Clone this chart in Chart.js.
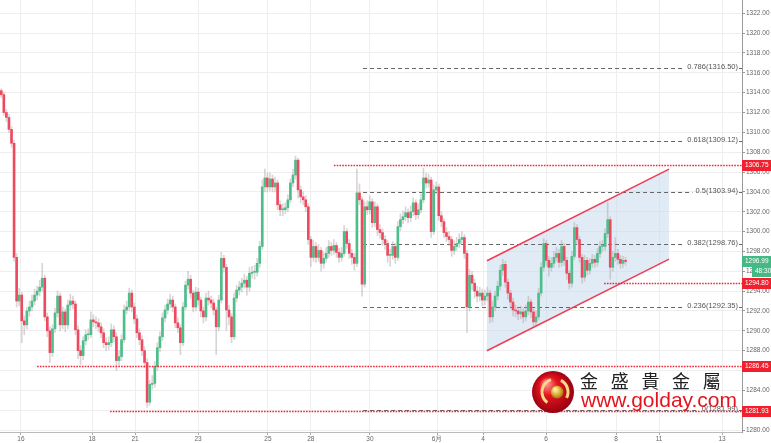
<!DOCTYPE html>
<html>
<head>
<meta charset="utf-8">
<script src="https://cdn.jsdelivr.net/npm/chart.js@4.4.1/dist/chart.umd.min.js"></script>
<style>
  html, body { margin: 0; padding: 0; background: #fff; }
  canvas { display: block; }
</style>
</head>
<body>
<canvas id="chart" width="771" height="443"></canvas>
<script>
// gold, 2h candles, 16 May -> 8 Jun
const opens = [
  1314.2, 1313.8, 1312.0, 1311.5, 1310.3, 1308.9, 1297.4, 1293.0, 1293.6, 1291.0,
  1290.6, 1292.0, 1292.4, 1293.0, 1293.6, 1294.0, 1294.4, 1295.3, 1291.4, 1290.0,
  1287.8, 1290.2, 1291.8, 1293.5, 1290.6, 1291.9, 1290.6, 1292.6, 1293.0, 1292.7,
  1290.1, 1288.0, 1287.5, 1289.0, 1289.6, 1289.6, 1291.1, 1290.9, 1290.8, 1290.4,
  1289.8, 1288.8, 1288.6, 1288.8, 1290.1, 1289.4, 1287.0, 1287.4, 1289.1, 1292.1,
  1292.4, 1293.8, 1292.4, 1291.2, 1289.8, 1289.1, 1288.0, 1286.8, 1282.8, 1284.6,
  1284.7, 1286.4, 1288.3, 1289.4, 1291.3, 1292.1, 1292.7, 1293.1, 1292.4, 1290.8,
  1290.3, 1288.8, 1292.4, 1294.6, 1295.2, 1293.8, 1292.4, 1293.9, 1293.1, 1292.0,
  1291.4, 1293.3, 1293.1, 1292.8, 1292.1, 1290.4, 1293.1, 1297.3, 1296.4, 1292.1,
  1291.4, 1289.4, 1293.3, 1294.1, 1294.4, 1294.8, 1295.1, 1294.4, 1295.8, 1295.9,
  1295.9, 1296.8, 1298.5, 1304.5, 1305.4, 1304.5, 1305.3, 1304.5, 1304.9, 1302.7,
  1302.2, 1302.2, 1302.4, 1303.2, 1304.9, 1305.7, 1307.2, 1304.2, 1303.5, 1303.2,
  1302.5, 1299.2, 1297.4, 1298.5, 1297.4, 1298.1, 1296.8, 1297.3, 1297.8, 1298.5,
  1298.1, 1298.6, 1297.9, 1297.4, 1297.8, 1300.0, 1298.8, 1297.8, 1297.4, 1296.8,
  1303.9, 1303.2, 1294.7, 1302.5, 1302.2, 1303.0, 1300.9, 1302.5, 1300.2, 1299.9,
  1299.2, 1298.8, 1297.6, 1297.6, 1298.5, 1297.4, 1300.5, 1301.2, 1301.5, 1301.9,
  1301.4, 1302.0, 1302.9, 1301.7, 1302.2, 1303.2, 1305.4, 1304.9, 1305.2, 1300.0,
  1304.2, 1304.5, 1301.6, 1301.0, 1299.9, 1299.5, 1299.2, 1298.1, 1298.5, 1298.8,
  1299.2, 1299.4, 1297.8, 1292.4, 1295.6, 1294.8, 1294.0, 1293.5, 1293.8, 1293.1,
  1293.5, 1293.8, 1291.4, 1292.4, 1293.5, 1294.5, 1296.1, 1296.7, 1294.9, 1293.8,
  1292.9, 1292.1, 1292.0, 1291.7, 1291.9, 1291.4, 1292.0, 1292.9, 1291.9, 1290.9,
  1291.4, 1293.8, 1296.4, 1298.8, 1297.1, 1296.4, 1296.8, 1297.4, 1297.8, 1296.9,
  1298.5, 1297.1, 1295.8, 1294.8, 1297.5, 1300.4, 1299.2, 1297.4, 1295.4, 1297.1,
  1296.1, 1296.8, 1297.2, 1296.9, 1297.8, 1298.5, 1298.5, 1299.8, 1301.2, 1296.4,
  1297.4, 1297.8, 1297.2, 1296.8, 1297.1
];
const highs = [
  1314.4, 1314.0, 1312.3, 1311.8, 1310.6, 1309.2, 1297.8, 1294.3, 1293.9, 1291.5,
  1292.4, 1293.0, 1293.6, 1294.2, 1294.5, 1295.1, 1296.8, 1295.6, 1291.8, 1290.4,
  1290.6, 1292.3, 1294.0, 1293.8, 1292.4, 1292.2, 1293.1, 1293.7, 1293.5, 1293.0,
  1290.5, 1288.5, 1289.4, 1290.1, 1290.2, 1291.9, 1291.6, 1291.4, 1291.2, 1290.8,
  1290.2, 1289.3, 1289.4, 1290.7, 1290.5, 1289.8, 1288.0, 1289.6, 1292.6, 1293.0,
  1294.3, 1294.1, 1292.8, 1291.6, 1290.2, 1289.5, 1288.4, 1287.2, 1285.0, 1285.5,
  1286.9, 1288.8, 1289.9, 1291.8, 1292.6, 1293.2, 1293.7, 1293.5, 1292.7, 1291.3,
  1290.6, 1292.9, 1295.0, 1296.0, 1295.6, 1294.1, 1294.4, 1294.3, 1293.4, 1292.4,
  1293.8, 1294.0, 1293.5, 1293.2, 1292.4, 1293.6, 1297.9, 1297.6, 1296.7, 1292.6,
  1291.7, 1293.8, 1294.6, 1295.0, 1295.3, 1295.7, 1295.5, 1296.4, 1296.5, 1296.6,
  1297.3, 1299.0, 1305.2, 1306.3, 1305.9, 1305.9, 1305.7, 1305.5, 1305.2, 1303.1,
  1302.8, 1302.9, 1303.7, 1305.3, 1306.3, 1307.6, 1307.4, 1304.6, 1304.0, 1303.6,
  1302.8, 1299.5, 1299.1, 1298.9, 1298.7, 1298.4, 1297.9, 1298.4, 1299.1, 1298.9,
  1299.2, 1298.9, 1298.3, 1298.4, 1300.6, 1300.3, 1299.2, 1298.2, 1297.8, 1306.3,
  1304.8, 1303.5, 1303.0, 1303.1, 1303.6, 1303.3, 1303.0, 1302.8, 1300.7, 1300.3,
  1299.6, 1299.1, 1298.2, 1299.0, 1298.8, 1301.0, 1301.8, 1302.1, 1302.5, 1302.3,
  1302.6, 1303.4, 1303.2, 1302.8, 1303.8, 1306.4, 1305.9, 1305.8, 1305.5, 1304.7,
  1305.0, 1304.8, 1302.0, 1301.3, 1300.4, 1300.0, 1299.5, 1299.1, 1299.4, 1299.8,
  1300.0, 1299.7, 1298.1, 1296.2, 1296.0, 1295.2, 1294.5, 1294.4, 1294.2, 1294.1,
  1294.4, 1294.1, 1293.0, 1294.0, 1295.0, 1296.6, 1297.2, 1297.0, 1295.2, 1294.1,
  1293.3, 1292.6, 1292.4, 1292.5, 1292.3, 1292.6, 1293.5, 1293.2, 1292.2, 1292.0,
  1294.3, 1296.9, 1299.3, 1299.1, 1297.5, 1297.4, 1298.0, 1298.4, 1298.2, 1299.1,
  1298.8, 1297.4, 1296.1, 1298.0, 1300.9, 1300.7, 1299.5, 1297.7, 1297.6, 1297.4,
  1297.3, 1297.7, 1297.6, 1298.3, 1299.0, 1299.1, 1300.3, 1302.9, 1301.5, 1298.0,
  1299.4, 1298.2, 1297.6, 1297.5, 1297.4
];
const lows = [
  1313.5, 1311.7, 1311.1, 1310.0, 1308.5, 1297.0, 1292.4, 1292.5, 1288.8, 1289.6,
  1290.2, 1291.5, 1292.0, 1292.6, 1293.1, 1293.5, 1294.0, 1291.0, 1289.4, 1286.8,
  1287.4, 1289.8, 1291.4, 1290.0, 1290.2, 1289.9, 1290.2, 1292.1, 1292.2, 1289.6,
  1287.2, 1286.6, 1287.1, 1288.6, 1289.1, 1289.3, 1290.4, 1290.2, 1289.9, 1289.3,
  1288.3, 1288.0, 1288.1, 1288.4, 1288.9, 1286.0, 1286.5, 1287.0, 1288.8, 1291.7,
  1292.0, 1291.9, 1290.7, 1289.3, 1288.6, 1287.5, 1286.3, 1282.3, 1282.5, 1284.1,
  1284.3, 1286.0, 1287.9, 1289.0, 1290.9, 1291.7, 1292.3, 1291.9, 1290.3, 1289.8,
  1287.6, 1288.5, 1292.1, 1294.2, 1293.3, 1291.9, 1292.0, 1292.6, 1291.4, 1290.8,
  1291.0, 1292.6, 1292.3, 1291.6, 1287.6, 1290.0, 1292.8, 1295.9, 1290.0, 1290.6,
  1288.8, 1289.1, 1292.9, 1293.6, 1293.9, 1294.3, 1293.6, 1294.0, 1295.3, 1295.2,
  1295.5, 1296.4, 1298.2, 1304.0, 1304.0, 1304.1, 1304.0, 1304.0, 1302.2, 1301.6,
  1301.6, 1301.8, 1302.0, 1302.9, 1304.5, 1305.3, 1303.4, 1302.9, 1302.7, 1302.0,
  1298.7, 1296.5, 1297.0, 1296.9, 1297.0, 1296.0, 1296.3, 1296.9, 1297.4, 1297.6,
  1297.7, 1297.4, 1296.9, 1297.0, 1297.5, 1298.3, 1297.3, 1296.7, 1296.1, 1296.5,
  1302.7, 1293.5, 1294.4, 1301.7, 1301.8, 1300.4, 1300.5, 1299.6, 1299.3, 1298.6,
  1298.2, 1296.9, 1296.5, 1297.2, 1296.8, 1297.1, 1300.1, 1300.8, 1301.1, 1300.9,
  1301.0, 1301.6, 1301.2, 1301.3, 1301.9, 1302.9, 1304.4, 1304.5, 1299.4, 1299.7,
  1303.8, 1301.1, 1300.5, 1299.4, 1299.0, 1298.6, 1297.5, 1297.7, 1298.1, 1298.4,
  1298.8, 1297.3, 1289.8, 1292.0, 1294.1, 1293.3, 1292.9, 1293.0, 1292.5, 1292.6,
  1293.0, 1290.8, 1290.9, 1292.0, 1293.1, 1294.1, 1295.6, 1294.4, 1293.2, 1292.3,
  1291.5, 1291.4, 1291.1, 1291.2, 1290.8, 1291.0, 1291.6, 1291.3, 1290.3, 1290.5,
  1291.1, 1293.5, 1296.0, 1296.6, 1295.5, 1296.0, 1296.4, 1297.0, 1296.4, 1296.5,
  1296.6, 1295.2, 1294.2, 1294.4, 1297.2, 1298.7, 1296.9, 1294.8, 1295.0, 1295.6,
  1295.7, 1296.4, 1296.4, 1296.5, 1297.4, 1298.0, 1298.1, 1299.4, 1295.2, 1296.0,
  1297.0, 1296.7, 1296.3, 1296.4, 1296.6
];
const closes = [
  1313.8, 1312.0, 1311.5, 1310.3, 1308.9, 1297.4, 1293.0, 1293.6, 1291.0, 1290.6,
  1292.0, 1292.4, 1293.0, 1293.6, 1294.0, 1294.4, 1295.3, 1291.4, 1290.0, 1287.8,
  1290.2, 1291.8, 1293.5, 1290.6, 1291.9, 1290.6, 1292.6, 1293.0, 1292.7, 1290.1,
  1288.0, 1287.5, 1289.0, 1289.6, 1289.6, 1291.1, 1290.9, 1290.8, 1290.4, 1289.8,
  1288.8, 1288.6, 1288.8, 1290.1, 1289.4, 1287.0, 1287.4, 1289.1, 1292.1, 1292.4,
  1293.8, 1292.4, 1291.2, 1289.8, 1289.1, 1288.0, 1286.8, 1282.8, 1284.6, 1284.7,
  1286.4, 1288.3, 1289.4, 1291.3, 1292.1, 1292.7, 1293.1, 1292.4, 1290.8, 1290.3,
  1288.8, 1292.4, 1294.6, 1295.2, 1293.8, 1292.4, 1293.9, 1293.1, 1292.0, 1291.4,
  1293.3, 1293.1, 1292.8, 1292.1, 1290.4, 1293.1, 1297.3, 1296.4, 1292.1, 1291.4,
  1289.4, 1293.3, 1294.1, 1294.4, 1294.8, 1295.1, 1294.4, 1295.8, 1295.9, 1295.9,
  1296.8, 1298.5, 1304.5, 1305.4, 1304.5, 1305.3, 1304.5, 1304.9, 1302.7, 1302.2,
  1302.2, 1302.4, 1303.2, 1304.9, 1305.7, 1307.2, 1304.2, 1303.5, 1303.2, 1302.5,
  1299.2, 1297.4, 1298.5, 1297.4, 1298.1, 1296.8, 1297.3, 1297.8, 1298.5, 1298.1,
  1298.6, 1297.9, 1297.4, 1297.8, 1300.0, 1298.8, 1297.8, 1297.4, 1296.8, 1303.9,
  1303.2, 1294.7, 1302.5, 1302.2, 1303.0, 1300.9, 1302.5, 1300.2, 1299.9, 1299.2,
  1298.8, 1297.6, 1297.6, 1298.5, 1297.4, 1300.5, 1301.2, 1301.5, 1301.9, 1301.4,
  1302.0, 1302.9, 1301.7, 1302.2, 1303.2, 1305.4, 1304.9, 1305.2, 1300.0, 1304.2,
  1304.5, 1301.6, 1301.0, 1299.9, 1299.5, 1299.2, 1298.1, 1298.5, 1298.8, 1299.2,
  1299.4, 1297.8, 1292.4, 1295.6, 1294.8, 1294.0, 1293.5, 1293.8, 1293.1, 1293.5,
  1293.8, 1291.4, 1292.4, 1293.5, 1294.5, 1296.1, 1296.7, 1294.9, 1293.8, 1292.9,
  1292.1, 1292.0, 1291.7, 1291.9, 1291.4, 1292.0, 1292.9, 1291.9, 1290.9, 1291.4,
  1293.8, 1296.4, 1298.8, 1297.1, 1296.4, 1296.8, 1297.4, 1297.8, 1296.9, 1298.5,
  1297.1, 1295.8, 1294.8, 1297.5, 1300.4, 1299.2, 1297.4, 1295.4, 1297.1, 1296.1,
  1296.8, 1297.2, 1296.9, 1297.8, 1298.5, 1298.5, 1299.8, 1301.2, 1296.4, 1297.4,
  1297.8, 1297.2, 1296.8, 1297.1, 1296.99
];

// x axis: one unit per candle slot, day labels at their slot
const slotCount = 290;
const dayTicks = [8.2, 36, 52.8, 77.4, 104.7, 121.5, 144.6, 170.8, 188.8, 213.4, 240.8, 257.6, 282.2];
const dayLabels = ['16', '18', '21', '23', '25', '28', '30', '6月', '4', '6', '8', '11', '13'];
const priceMin = 1279.8;
const priceMax = 1323.34;

// fibonacci retracement
const fibRatios = ['0.786', '0.618', '0.5', '0.382', '0.236', '0'];
const fibPrices = [1316.50, 1309.12, 1303.94, 1298.76, 1292.35, 1281.99];
const fibFrom = 141.9;

// red support / resistance lines
const levelPrices = [1306.75, 1294.80, 1286.45, 1281.93];
const levelFrom = [130.5, 236.1, 14.5, 43];

// rising channel
const channelX = [190.3, 261.5];
const channelTop = [1297.06, 1306.3];
const channelBottom = [1287.99, 1297.23];

const lastPrice = 1296.99;
const countdown = '48:30';

const upColor = '#4dbd8a';
const downColor = '#ee4a5f';
const redLine = '#f0283c';

Chart.defaults.font.family = "'Liberation Sans', Arial, sans-serif";

const bodyColors = closes.map((c, i) => c >= opens[i] ? upColor : downColor);
const bodies = closes.map((c, i) => ({ x: i + 0.5, y: [opens[i], c] }));
const wicks = closes.map((c, i) => ({ x: i + 0.5, y: [lows[i], highs[i]] }));

function priceBox(ctx, x0, y, w, text, color) {
  ctx.fillStyle = color;
  ctx.fillRect(x0, Math.round(y) - 5, w, 11);
  ctx.fillStyle = '#fff';
  ctx.font = "6.5px 'Liberation Sans', Arial";
  ctx.textAlign = 'left';
  ctx.textBaseline = 'middle';
  ctx.fillText(text, x0 + 3, Math.round(y) + 0.5);
}

function drawLogo(ctx, cx, cy) {
  const g = ctx.createRadialGradient(cx - 7, cy - 9, 2, cx, cy, 22);
  g.addColorStop(0, '#ff8a8a');
  g.addColorStop(0.35, '#e8141e');
  g.addColorStop(1, '#930010');
  ctx.fillStyle = g;
  ctx.beginPath();
  ctx.arc(cx, cy, 21, 0, Math.PI * 2);
  ctx.fill();
  // light crescent
  ctx.strokeStyle = '#f3d98a';
  ctx.lineWidth = 3;
  ctx.beginPath();
  ctx.arc(cx + 2, cy, 13, Math.PI * 0.7, Math.PI * 1.4);
  ctx.stroke();
  ctx.beginPath();
  ctx.arc(cx + 2, cy, 13, -Math.PI * 0.35, Math.PI * 0.15);
  ctx.stroke();
  const d = ctx.createRadialGradient(cx + 2, cy - 3, 1, cx + 4, cy, 7);
  d.addColorStop(0, '#fff1a8');
  d.addColorStop(0.6, '#d9a630');
  d.addColorStop(1, '#9c6b10');
  ctx.fillStyle = d;
  ctx.beginPath();
  ctx.arc(cx + 4, cy, 6.5, 0, Math.PI * 2);
  ctx.fill();

  ctx.fillStyle = '#222';
  ctx.font = "18px 'Noto Sans CJK TC'";
  ctx.textAlign = 'center';
  ctx.textBaseline = 'middle';
  const chars = ['金', '盛', '貴', '金', '屬'];
  chars.forEach((ch, k) => ctx.fillText(ch, cx + 36 + k * 30.7, cy - 11));

  ctx.fillStyle = '#e4141c';
  ctx.font = "21px 'Liberation Sans', Arial";
  ctx.textAlign = 'left';
  ctx.textBaseline = 'alphabetic';
  ctx.fillText('www.golday.com', cx + 28, cy + 15);
}

const drawings = {
  id: 'drawings',
  beforeDatasetsDraw(chart) {
    const { ctx, chartArea, scales: { x, y } } = chart;
    ctx.save();
    // channel fill
    ctx.beginPath();
    ctx.moveTo(x.getPixelForValue(channelX[0]), y.getPixelForValue(channelTop[0]));
    ctx.lineTo(x.getPixelForValue(channelX[1]), y.getPixelForValue(channelTop[1]));
    ctx.lineTo(x.getPixelForValue(channelX[1]), y.getPixelForValue(channelBottom[1]));
    ctx.lineTo(x.getPixelForValue(channelX[0]), y.getPixelForValue(channelBottom[0]));
    ctx.closePath();
    ctx.fillStyle = 'rgba(196,216,238,0.5)';
    ctx.fill();

    // fib levels
    ctx.font = "7.5px 'Liberation Sans', Arial";
    fibPrices.forEach((p, i) => {
      const py = Math.round(y.getPixelForValue(p)) + 0.5;
      const label = fibRatios[i] + '(' + p.toFixed(2) + ')';
      const right = chartArea.right - 4;
      const w = ctx.measureText(label).width;
      ctx.strokeStyle = '#666';
      ctx.lineWidth = 1;
      ctx.setLineDash([4, 3]);
      ctx.beginPath();
      ctx.moveTo(x.getPixelForValue(fibFrom), py);
      ctx.lineTo(right - w - 3, py);
      ctx.moveTo(right + 1, py);
      ctx.lineTo(chartArea.right, py);
      ctx.stroke();
      ctx.setLineDash([]);
      ctx.fillStyle = '#555';
      ctx.textAlign = 'right';
      ctx.textBaseline = 'alphabetic';
      ctx.fillText(label, right, py);
    });
    ctx.restore();
  },
  afterDatasetsDraw(chart) {
    const { ctx, chartArea, scales: { x, y } } = chart;
    ctx.save();
    // channel borders
    ctx.strokeStyle = '#f03c54';
    ctx.lineWidth = 1.5;
    [channelTop, channelBottom].forEach(line => {
      ctx.beginPath();
      ctx.moveTo(x.getPixelForValue(channelX[0]), y.getPixelForValue(line[0]));
      ctx.lineTo(x.getPixelForValue(channelX[1]), y.getPixelForValue(line[1]));
      ctx.stroke();
    });
    // dotted horizontal levels
    ctx.strokeStyle = redLine;
    ctx.lineWidth = 1.6;
    ctx.setLineDash([1.6, 1.2]);
    levelPrices.forEach((p, i) => {
      const py = Math.round(y.getPixelForValue(p)) + 0.5;
      ctx.beginPath();
      ctx.moveTo(x.getPixelForValue(levelFrom[i]), py);
      ctx.lineTo(chartArea.right, py);
      ctx.stroke();
    });
    ctx.restore();
  },
  afterDraw(chart) {
    const { ctx, chartArea, scales: { y } } = chart;
    const x0 = chartArea.right;
    const w = chart.width - x0;
    ctx.save();
    levelPrices.forEach(p => priceBox(ctx, x0, y.getPixelForValue(p), w, p.toFixed(2), '#f2202f'));
    const ly = y.getPixelForValue(lastPrice);
    priceBox(ctx, x0, ly, w, lastPrice.toFixed(2), '#45b985');
    priceBox(ctx, x0 + 10, ly + 10, w - 10, countdown, '#45b985');
    drawLogo(ctx, 553, 392);
    ctx.restore();
  }
};

new Chart(document.getElementById('chart'), {
  type: 'bar',
  data: {
    datasets: [
      {
        label: 'body',
        data: bodies,
        backgroundColor: bodyColors,
        barThickness: 2,
        minBarLength: 1,
        grouped: false
      },
      {
        label: 'wick',
        data: wicks,
        backgroundColor: 'rgba(175,160,165,0.45)',
        barThickness: 1,
        grouped: false
      }
    ]
  },
  options: {
    responsive: false,
    devicePixelRatio: 1,
    animation: false,
    layout: { padding: 0 },
    plugins: { legend: { display: false }, tooltip: { enabled: false } },
    scales: {
      x: {
        type: 'linear',
        min: 0,
        max: slotCount,
        offset: false,
        grid: { color: '#eeeeee', offset: false, tickLength: 3, tickColor: '#aaa' },
        border: { color: '#bbb' },
        afterBuildTicks: scale => { scale.ticks = dayTicks.map(v => ({ value: v })); },
        afterFit: scale => { scale.height = 11; scale.paddingLeft = 0; scale.paddingRight = 0; },
        ticks: {
          autoSkip: false,
          maxRotation: 0,
          padding: 0,
          color: '#666',
          font: { size: 6.5 },
          callback: (v, i) => dayLabels[i]
        }
      },
      y: {
        position: 'right',
        min: priceMin,
        max: priceMax,
        grid: { color: '#eeeeee', tickLength: 3, tickColor: '#999' },
        border: { color: '#999' },
        afterFit: scale => { scale.width = 29; scale.paddingTop = 0; scale.paddingBottom = 0; },
        ticks: {
          stepSize: 2,
          includeBounds: false,
          padding: 1,
          color: '#666',
          font: { size: 6.5 },
          callback: v => v.toFixed(2)
        }
      }
    }
  },
  plugins: [drawings]
});
</script>
</body>
</html>
